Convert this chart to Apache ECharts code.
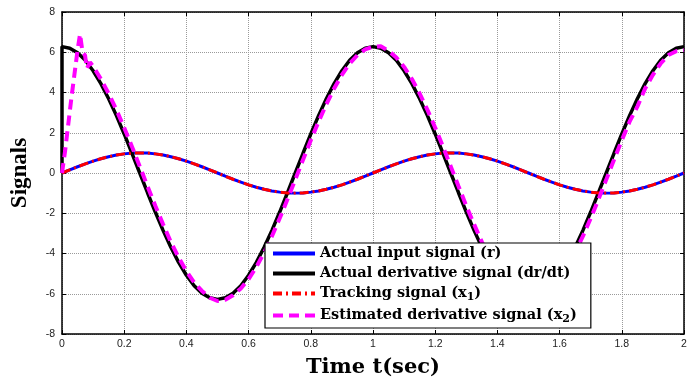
<!DOCTYPE html>
<html>
<head>
<meta charset="utf-8">
<script src="https://cdn.jsdelivr.net/npm/echarts@6/dist/echarts.min.js"></script>
<style>
  html, body { margin: 0; padding: 0; background: #fff; }
  #chart { width: 696px; height: 383px; }
</style>
</head>
<body>
<div id="chart"></div>
<script>
// time grid, 0 .. 2 s every 0.025 s
var timeStep = 0.025;

// actual input signal r
var rValues = [
  0, 0.16, 0.31, 0.45, 0.59, 0.71, 0.81, 0.89, 0.95, 0.99, 1, 0.99, 0.95, 0.89, 0.81, 0.71, 0.59, 0.45, 0.31, 0.16,
  0, -0.16, -0.31, -0.45, -0.59, -0.71, -0.81, -0.89, -0.95, -0.99, -1, -0.99, -0.95, -0.89, -0.81, -0.71, -0.59, -0.45, -0.31, -0.16,
  0, 0.16, 0.31, 0.45, 0.59, 0.71, 0.81, 0.89, 0.95, 0.99, 1, 0.99, 0.95, 0.89, 0.81, 0.71, 0.59, 0.45, 0.31, 0.16,
  0, -0.16, -0.31, -0.45, -0.59, -0.71, -0.81, -0.89, -0.95, -0.99, -1, -0.99, -0.95, -0.89, -0.81, -0.71, -0.59, -0.45, -0.31, -0.16,
  0
];

// tracking signal x1 (lies on top of r)
var x1Values = [
  0, 0.16, 0.31, 0.45, 0.59, 0.71, 0.81, 0.89, 0.95, 0.99, 1, 0.99, 0.95, 0.89, 0.81, 0.71, 0.59, 0.45, 0.31, 0.16,
  0, -0.16, -0.31, -0.45, -0.59, -0.71, -0.81, -0.89, -0.95, -0.99, -1, -0.99, -0.95, -0.89, -0.81, -0.71, -0.59, -0.45, -0.31, -0.16,
  0, 0.16, 0.31, 0.45, 0.59, 0.71, 0.81, 0.89, 0.95, 0.99, 1, 0.99, 0.95, 0.89, 0.81, 0.71, 0.59, 0.45, 0.31, 0.16,
  0, -0.16, -0.31, -0.45, -0.59, -0.71, -0.81, -0.89, -0.95, -0.99, -1, -0.99, -0.95, -0.89, -0.81, -0.71, -0.59, -0.45, -0.31, -0.16,
  0
];

// actual derivative dr/dt (black), starts from 0 at t = 0
var drStart = 0;
var drValues = [
  6.28, 6.20, 5.97, 5.60, 5.08, 4.44, 3.69, 2.85, 1.94, 0.98, 0, -0.98, -1.94, -2.85, -3.69, -4.44, -5.08, -5.60, -5.97, -6.20,
  -6.28, -6.20, -5.97, -5.60, -5.08, -4.44, -3.69, -2.85, -1.94, -0.98, 0, 0.98, 1.94, 2.85, 3.69, 4.44, 5.08, 5.60, 5.97, 6.20,
  6.28, 6.20, 5.97, 5.60, 5.08, 4.44, 3.69, 2.85, 1.94, 0.98, 0, -0.98, -1.94, -2.85, -3.69, -4.44, -5.08, -5.60, -5.97, -6.20,
  -6.28, -6.20, -5.97, -5.60, -5.08, -4.44, -3.69, -2.85, -1.94, -0.98, 0, 0.98, 1.94, 2.85, 3.69, 4.44, 5.08, 5.60, 5.97, 6.20,
  6.28
];

// estimated derivative x2 (magenta): peaking transient, then lagging dr/dt slightly
var x2Times = [0, 0.01, 0.03, 0.05, 0.058, 0.066, 0.074, 0.08, 0.09, 0.1];
var x2Early = [0, 1.1, 3.7, 6.1, 6.9, 6.0, 5.85, 5.2, 5.5, 5.3];
// from t = 0.125 on, every 0.025 s
var x2Start = 0.125;
var x2Values = [
  4.67, 3.95, 3.14, 2.25, 1.31, 0.33, -0.66, -1.63, -2.55, -3.42, -4.20, -4.88, -5.44, -5.86, -6.20, -6.36,
  -6.30, -6.07, -5.74, -5.27, -4.67, -3.95, -3.14, -2.25, -1.31, -0.33, 0.66, 1.63, 2.55, 3.42, 4.20, 4.88, 5.44, 5.86, 6.14, 6.27,
  6.30, 6.07, 5.74, 5.27, 4.67, 3.95, 3.14, 2.25, 1.31, 0.33, -0.66, -1.63, -2.55, -3.42, -4.20, -4.88, -5.44, -5.86, -6.14, -6.27,
  -6.25, -6.07, -5.74, -5.27, -4.67, -3.95, -3.14, -2.25, -1.31, -0.33, 0.66, 1.63, 2.55, 3.30, 4.20, 4.88, 5.44, 5.86, 6.05, 6.10
];

function pairs(t0, vals) {
    var out = [];
    for (var i = 0; i < vals.length; i++) {
        out.push([+(t0 + i * timeStep).toFixed(3), vals[i]]);
    }
    return out;
}

var rData = pairs(0, rValues);
var x1Data = pairs(0, x1Values);
var drData = [[0, drStart]].concat(pairs(0, drValues));
var x2Data = [];
for (var i = 0; i < x2Times.length; i++) x2Data.push([x2Times[i], x2Early[i]]);
x2Data = x2Data.concat(pairs(x2Start, x2Values));

var serifBold = 'DejaVu Serif, Liberation Serif, serif';
var tickFont = { color: '#222', fontFamily: 'Liberation Sans, Arial, sans-serif', fontSize: 10.5 };
var gridLine = { show: true, lineStyle: { color: '#9a9a9a', type: [1, 1], width: 1 } };
var boxLine = { show: true, onZero: false, lineStyle: { color: '#000', width: 1.5 } };
var boxTick = { show: true, inside: true, length: 4, lineStyle: { color: '#000' } };

var names = {
    r: 'Actual input signal (r)',
    dr: 'Actual derivative signal (dr/dt)',
    x1: 'Tracking signal (x1)',
    x2: 'Estimated derivative signal (x2)'
};

var myChart = echarts.init(document.getElementById('chart'));

var option = {
    backgroundColor: '#fff',
    animation: false,
    grid: { left: 62, right: 12, top: 12, bottom: 37 },
    xAxis: [{
        type: 'value', min: 0, max: 2, interval: 0.2,
        axisLine: boxLine, axisTick: boxTick,
        axisLabel: Object.assign({ margin: 5, formatter: function (v) { return String(+v.toFixed(1)); } }, tickFont),
        splitLine: gridLine,
        name: 'Time t(sec)', nameLocation: 'middle', nameGap: 23,
        nameTextStyle: { fontFamily: serifBold, fontWeight: 'bold', fontSize: 21, color: '#000' }
    }, {
        type: 'value', min: 0, max: 2, interval: 0.2, position: 'top',
        axisLine: boxLine, axisTick: boxTick,
        axisLabel: { show: false }, splitLine: { show: false }
    }],
    yAxis: [{
        type: 'value', min: -8, max: 8, interval: 2,
        axisLine: boxLine, axisTick: boxTick,
        axisLabel: Object.assign({ margin: 7 }, tickFont),
        splitLine: gridLine,
        name: 'Signals', nameLocation: 'middle', nameGap: 30, nameRotate: 90,
        nameTextStyle: { fontFamily: 'Liberation Serif, serif', fontWeight: 'bold', fontSize: 23, color: '#000' }
    }, {
        type: 'value', min: -8, max: 8, interval: 2, position: 'right',
        axisLine: boxLine, axisTick: boxTick,
        axisLabel: { show: false }, splitLine: { show: false }
    }],
    legend: {
        orient: 'vertical', left: 265, top: 243,
        backgroundColor: '#fff', borderColor: '#000', borderWidth: 1.2, borderRadius: 0,
        padding: [3, 14, 3, 6], itemGap: 5, itemWidth: 42, itemHeight: 15,
        itemStyle: { opacity: 0 },
        lineStyle: { width: 4 },
        data: [names.r, names.dr, names.x1, names.x2],
        formatter: function (n) {
            if (n === names.x1) return 'Tracking signal (x{sub|1})';
            if (n === names.x2) return 'Estimated derivative signal (x{sub|2})';
            return n;
        },
        textStyle: {
            fontFamily: serifBold, fontWeight: 'bold', fontSize: 14.5, color: '#000',
            rich: { sub: { fontFamily: serifBold, fontWeight: 'bold', fontSize: 11, verticalAlign: 'bottom', padding: [8, 0, 0, 0] } }
        }
    },
    series: [
        { name: names.r, type: 'line', data: rData, symbol: 'none', z: 2,
          lineStyle: { color: '#0000ff', width: 3 }, itemStyle: { color: '#0000ff' } },
        { name: names.dr, type: 'line', data: drData, symbol: 'none', z: 2,
          lineStyle: { color: '#000', width: 3.5 }, itemStyle: { color: '#000' } },
        { name: names.x1, type: 'line', data: x1Data, symbol: 'none', z: 3,
          lineStyle: { color: '#ff0000', width: 3, type: [9, 4, 2, 4] }, itemStyle: { color: '#ff0000' } },
        { name: names.x2, type: 'line', data: x2Data, symbol: 'none', z: 3,
          lineStyle: { color: '#ff00ff', width: 4, type: [10, 6] }, itemStyle: { color: '#ff00ff' } }
    ]
};

myChart.setOption(option);
</script>
</body>
</html>
